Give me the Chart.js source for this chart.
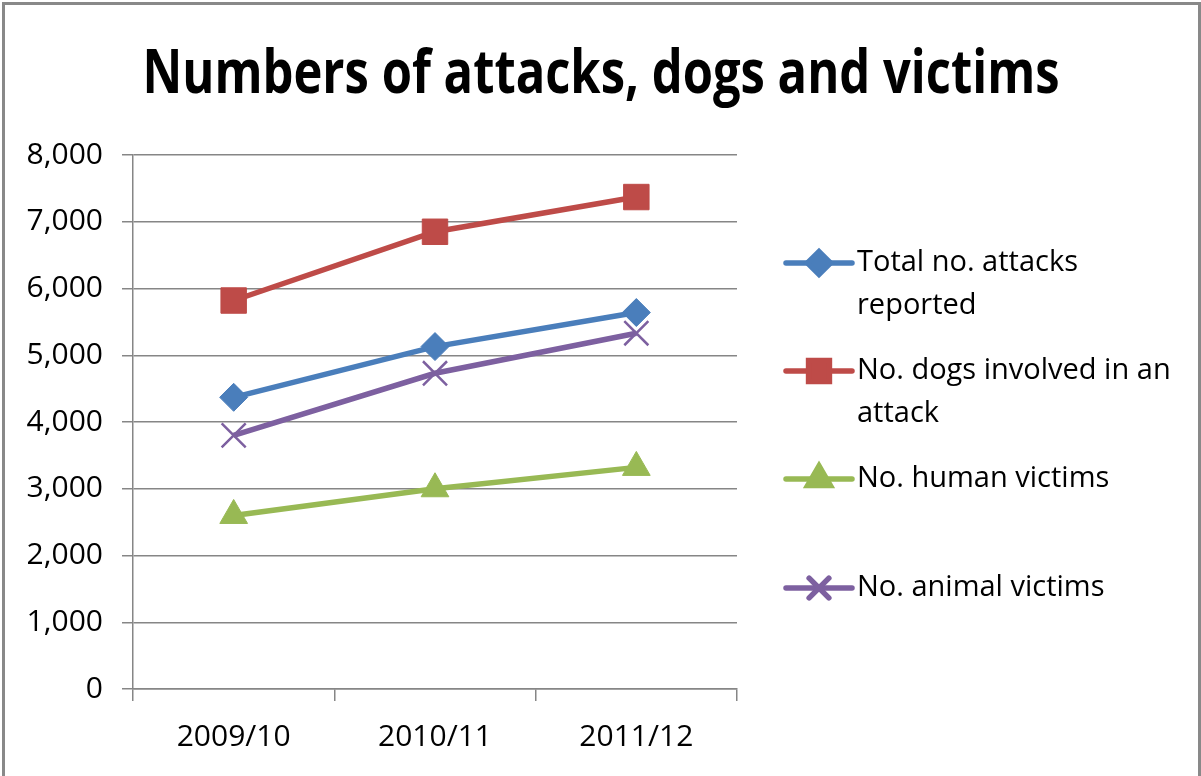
<!DOCTYPE html>
<html lang="en">

<head>
  <meta charset="UTF-8">
  <title>Numbers of attacks, dogs and victims</title>
  <script src="https://cdn.jsdelivr.net/npm/chart.js@4/dist/chart.umd.min.js"></script>
  <style>
    html, body {
      margin: 0;
      padding: 0;
      background: #fff;
      overflow: hidden;
    }
    .frame {
      position: absolute;
      left: 2px;
      top: 2px;
      width: 1193px;
      height: 820px;
      border: 3px solid #898989;
      pointer-events: none;
    }
    .plot-container {
      position: absolute;
      left: 0;
      top: 0;
      width: 1201px;
      height: 776px;
    }
  </style>
</head>

<body>
  <div class="plot-container">
    <canvas id="plot"></canvas>
  </div>
  <div class="frame"></div>

  <script>
    const title = 'Numbers of attacks, dogs and victims';
    const categories = ['2009/10', '2010/11', '2011/12'];

    const totalAttacks = [4370, 5130, 5640];
    const dogsInvolved = [5820, 6850, 7370];
    const humanVictims = [2600, 3000, 3320];
    const animalVictims = [3800, 4730, 5330];

    // legend text, one array entry per line
    const legendLabels = [
      ['Total no. attacks', 'reported'],
      ['No. dogs involved in an', 'attack'],
      ['No. human victims'],
      ['No. animal victims']
    ];

    const yMin = 0;
    const yMax = 8000;
    const yStep = 1000;

    const textFont = "'Open Sans', sans-serif";
    const gridGray = '#868686';

    function series(label, values, color, style, radius, borderWidth) {
      return {
        label: label,
        data: values,
        borderColor: color,
        backgroundColor: color,
        borderWidth: 5.5,
        pointStyle: style,
        pointRadius: radius,
        pointHoverRadius: radius,
        pointBorderWidth: borderWidth,
        pointBackgroundColor: color,
        pointBorderColor: color,
        tension: 0
      };
    }

    const data = {
      labels: categories,
      datasets: [
        series(legendLabels[0].join(' '), totalAttacks, '#4A7EBB', 'rectRot', 14, 1),
        series(legendLabels[1].join(' '), dogsInvolved, '#BE4B48', 'rect', 18, 1),
        series(legendLabels[2].join(' '), humanVictims, '#98B954', 'triangle', 16, 1),
        series(legendLabels[3].join(' '), animalVictims, '#7D60A0', 'crossRot', 17, 2.5)
      ]
    };

    // title drawn by hand so it can be condensed like the original font
    const titlePlugin = {
      id: 'condensedTitle',
      afterDraw(chart) {
        const ctx = chart.ctx;
        ctx.save();
        ctx.font = "bold 60px 'Liberation Sans Narrow', 'Open Sans', sans-serif";
        ctx.fillStyle = '#000';
        ctx.textBaseline = 'alphabetic';
        ctx.textAlign = 'left';
        const w = ctx.measureText(title).width;
        const targetW = 917;
        ctx.translate(601 - targetW / 2, 93);
        ctx.scale(targetW / w, 1);
        ctx.fillText(title, 0, 0);
        ctx.restore();
      }
    };

    // legend on the right, each entry gets two text lines of room
    const legendPlugin = {
      id: 'sideLegend',
      afterDraw(chart) {
        const ctx = chart.ctx;
        const rowY = [263, 371, 479, 588];
        const lineH = 43;
        ctx.save();
        chart.data.datasets.forEach((ds, i) => {
          const y = rowY[i];
          ctx.strokeStyle = ds.borderColor;
          ctx.lineWidth = 5.5;
          ctx.lineCap = 'round';
          ctx.beginPath();
          ctx.moveTo(786, y);
          ctx.lineTo(852, y);
          ctx.stroke();

          ctx.fillStyle = ds.backgroundColor;
          ctx.strokeStyle = ds.borderColor;
          Chart.helpers.drawPoint(ctx, {
            pointStyle: ds.pointStyle,
            radius: ds.pointRadius * 0.82,
            rotation: 0,
            borderWidth: ds.pointBorderWidth
          }, 819, y);

          ctx.fillStyle = '#000';
          ctx.font = '29px ' + textFont;
          ctx.textBaseline = 'middle';
          ctx.textAlign = 'left';
          legendLabels[i].forEach((line, j) => {
            ctx.fillText(line, 857, y + j * lineH);
          });
        });
        ctx.restore();
      }
    };

    const config = {
      type: 'line',
      data,
      plugins: [titlePlugin, legendPlugin],
      options: {
        responsive: true,
        maintainAspectRatio: false,
        animation: false,
        layout: {
          padding: { top: 155, right: 464, left: 0, bottom: 0 }
        },
        plugins: {
          legend: { display: false },
          title: { display: false },
          tooltip: { enabled: false }
        },
        scales: {
          x: {
            type: 'category',
            offset: true,
            afterFit(scale) { scale.height = 87; },
            grid: {
              offset: true,
              drawOnChartArea: false,
              drawTicks: true,
              tickLength: 12,
              color: gridGray,
              lineWidth: 1.5
            },
            border: { color: gridGray, width: 1.5 },
            ticks: {
              color: '#000',
              padding: 18,
              maxRotation: 0,
              font: { family: textFont, size: 30 }
            }
          },
          y: {
            min: yMin,
            max: yMax,
            afterFit(scale) { scale.width = 133; },
            grid: {
              color: gridGray,
              lineWidth: 1.5,
              drawTicks: true,
              tickLength: 11
            },
            border: { color: gridGray, width: 1.5 },
            ticks: {
              stepSize: yStep,
              color: '#000',
              padding: 19,
              font: { family: textFont, size: 30 },
              callback: (v) => v.toLocaleString('en-US')
            }
          }
        }
      }
    };

    const plot = new Chart(document.getElementById('plot'), config);
  </script>
</body>

</html>
